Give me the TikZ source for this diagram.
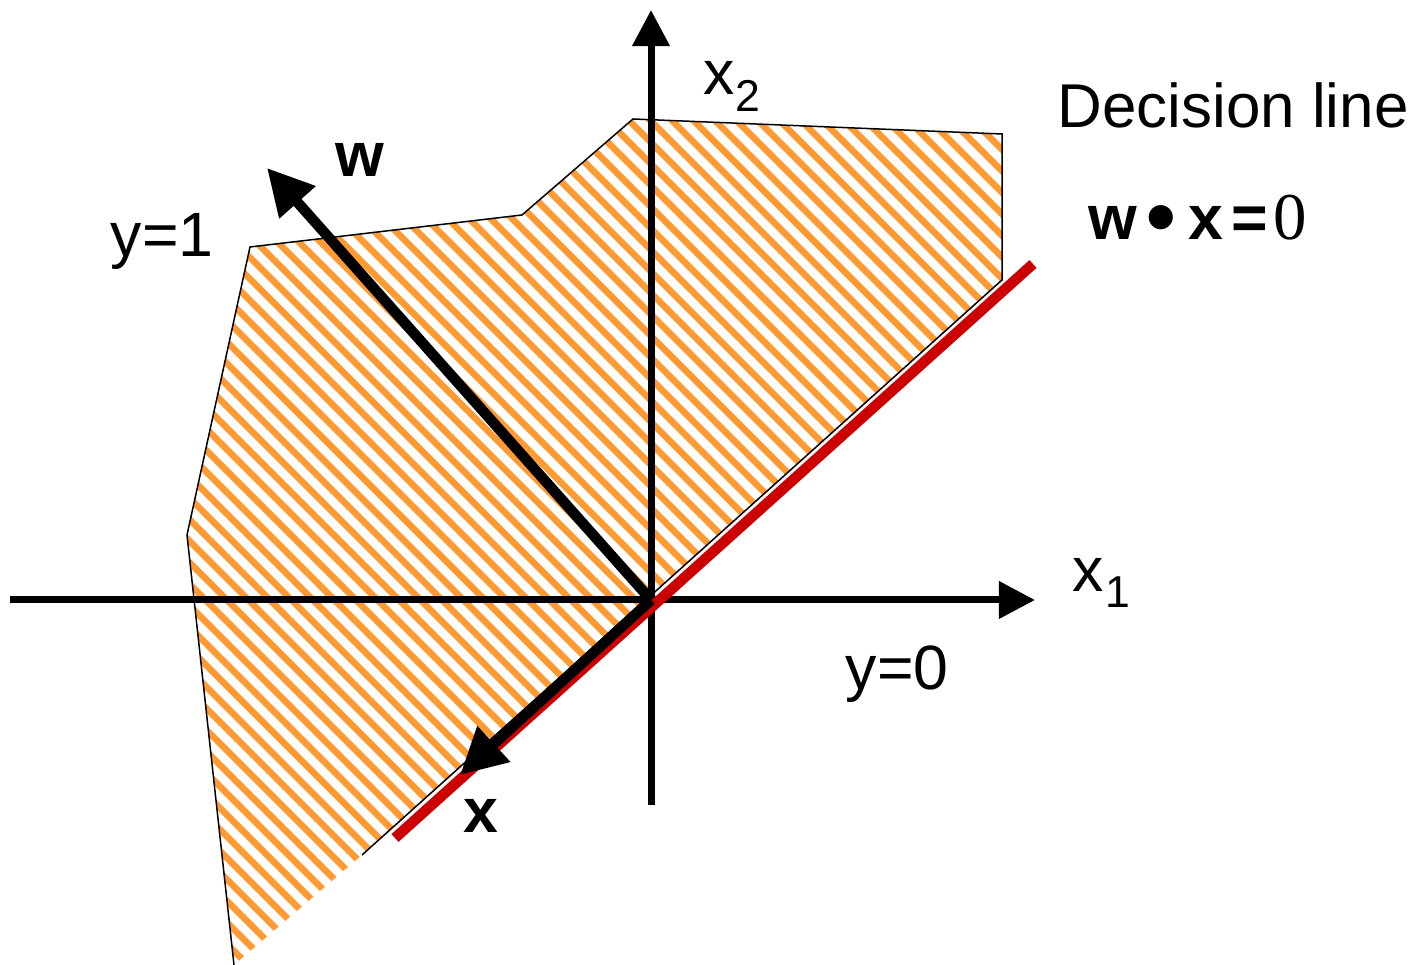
\documentclass[tikz,border=0pt]{standalone}
\usepackage{fontspec}
\setmainfont{Liberation Sans}
\newfontfamily\numfont{Liberation Serif}
\usetikzlibrary{arrows.meta}
\definecolor{hatchorange}{RGB}{255,155,50}
\definecolor{declinered}{RGB}{204,0,0}

\begin{document}
\begin{tikzpicture}[x=0.01cm,y=-0.01cm,
  axis/.style={line width=0.07cm,-{Triangle[length=0.36cm,width=0.36cm]}},
  vec/.style={line width=0.105cm,-{Triangle[length=0.46cm,width=0.46cm]}},
  border/.style={line width=0.015cm,line join=miter},
  lab/.style={font=\fontsize{17.8}{20}\selectfont,inner sep=0pt,anchor=base west},
  sublab/.style={font=\fontsize{12.7}{14}\selectfont,inner sep=0pt,anchor=base west},
]
\useasboundingbox (0,0) rectangle (1414,965);

% Region y=1 (hatched)
\begin{scope}
  \clip (0,0) rectangle (1414,965);
  \clip (633,119) -- (1002,134) -- (1002,280) -- (362,855) -- (234,965)
    -- (187,535) -- (250,247) -- (522,215) -- cycle;
  \foreach \c in {-760,-738.5,...,900}
    \draw[hatchorange,line width=0.065cm] (\c,0) -- ++(1000,1000);
\end{scope}
\draw[border] (362,855) -- (1002,280) -- (1002,134) -- (633,119) -- (522,215)
  -- (250,247) -- (187,535) -- (234,965);

% Axes
\coordinate (O) at (651,600);
\coordinate (x1start) at (10,600);
\coordinate (x1end) at (1035,600);
\coordinate (x2start) at (651,805);
\coordinate (x2end) at (651,10);
\draw[axis] (x1start) -- (x1end);
\draw[axis] (x2start) -- (x2end);

% Decision line
\coordinate (dlow) at (395,838);
\coordinate (dhigh) at (1033,264);
\draw[declinered,line width=0.105cm] (dlow) -- (dhigh);

% Vectors w and x
\coordinate (wtip) at (267,168);
\coordinate (xtip) at (460,775);
\draw[vec] (O) -- (wtip);
\draw[vec] (O) -- (xtip);

% Labels
\node[lab] (x2lab) at (703,95) {x};
\node[sublab] (x2sub) at (735,112) {2};
\node[lab] (x1lab) at (1072,592) {x};
\node[sublab] (x1sub) at (1105,608) {1};
\node[lab] (y0lab) at (845,690) {y=0};
\node[lab] (y1lab) at (110,257) {y=1};
\node[lab,font=\fontsize{17.8}{20}\selectfont\bfseries] (wlab) at (335,177) {w};
\node[lab,font=\fontsize{17.8}{20}\selectfont\bfseries] (xlab) at (463,833) {x};
\node[lab,font=\fontsize{17.6}{20}\selectfont] (declab) at (1057,128) {Decision line};
\node[lab,font=\fontsize{17.8}{20}\selectfont\bfseries] (eqlab) at (1088,240)
  {w\hspace{2.5pt}\raisebox{-1.5pt}{\fontsize{24}{24}\selectfont\textbullet}\hspace{3.5pt}x\hspace{2.5pt}=\hspace{1.5pt}{\numfont\mdseries\fontsize{19}{20}\selectfont 0}};
\end{tikzpicture}
\end{document}
